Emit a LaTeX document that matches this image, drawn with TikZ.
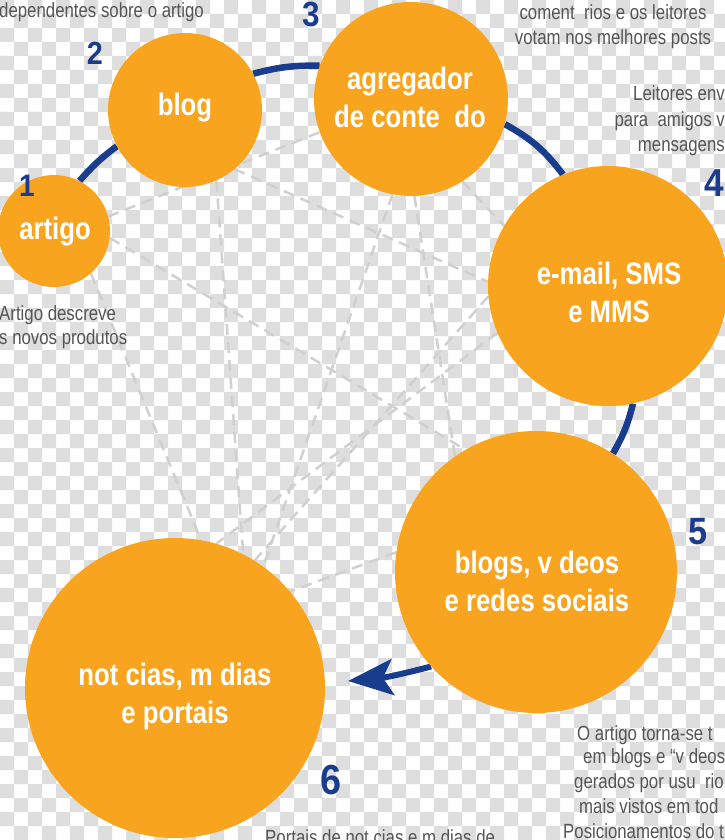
\documentclass[tikz,border=0pt]{standalone}
\usepackage{fontspec}
\setmainfont{Liberation Sans}
\newfontfamily\condfont{Liberation Sans}[FakeStretch=0.82]
\newfontfamily\labfont{Liberation Sans}[FakeStretch=0.83]
\newfontfamily\numfont{Liberation Sans}[FakeStretch=0.9]
\usetikzlibrary{arrows.meta}
\definecolor{orng}{RGB}{249,164,30}
\definecolor{navy}{RGB}{25,60,140}
\definecolor{txtgray}{RGB}{85,85,85}
\definecolor{chk}{RGB}{222,222,222}
\definecolor{dashg}{RGB}{208,208,208}
\pgfdeclarelayer{back}
\pgfdeclarelayer{mid}
\pgfsetlayers{back,mid,main}
\begin{document}
\begin{tikzpicture}[x=1pt,y=-1pt,
  bubble/.style={circle,fill=orng,inner sep=0pt},
  lbl/.style={text=white,align=center,inner sep=0pt,
    font=\labfont\bfseries\fontsize{31}{38}\selectfont},
  num/.style={text=navy,inner sep=0pt,font=\numfont\bfseries\fontsize{#1}{#1}\selectfont},
  note/.style={text=txtgray,inner sep=0pt,font=\condfont\fontsize{20.5}{25}\selectfont},
  flow/.style={draw=navy,line width=6.5pt},
  web/.style={draw=dashg,line width=2.5pt,dash pattern=on 11pt off 7pt}]
\useasboundingbox (0,0) rectangle (724,840);
\begin{pgfonlayer}{back}
  \fill[white] (0,0) rectangle (724,840);
  \fill[chk] \foreach \i in {0,...,25}{\foreach \j in {0,...,29}{
     (28*\i,28*\j) rectangle ++(14,14) (28*\i+14,28*\j+14) rectangle ++(14,14)}};
\end{pgfonlayer}

% circles
\node[bubble,minimum size=112pt] (artigo) at (54,231) {};
\node[bubble,minimum size=154pt] (blog) at (185,110) {};
\node[bubble,minimum size=194pt] (agreg) at (411,99) {};
\node[bubble,minimum size=240pt] (email) at (608,286) {};
\node[bubble,minimum size=282pt] (blogs) at (536,572) {};
\node[bubble,minimum size=300pt] (notic) at (175,688) {};
\coordinate (tip) at (348,681);

% circle labels
\node[lbl] (artigoT) at (55,232) {artigo};
\node[lbl] (blogT) at (185,108) {blog};
\node[lbl] (agregT) at (410,97) {agregador\\de conte\ \ do};
\node[lbl] (emailT) at (609,292) {e-mail, SMS\\e MMS};
\node[lbl] (blogsT) at (537,581) {blogs, v\ deos\\e redes sociais};
\node[lbl] (noticT) at (175,696) {not\ cias, m\ dias\\e portais};

\begin{pgfonlayer}{mid}
  \draw[web] (artigo.-49) -- (notic.80);
  \draw[web] (blog.-66) -- (notic.63);
  \draw[web] (agreg.-101) -- (notic.54);
  \draw[web] (agreg.-88) -- (blogs.125);
  \draw[web] (email.185) -- (notic.58);
  \draw[web] (email.203) -- (notic.74);
  \draw[web] (artigo.-7) -- (blogs.120);
  \draw[web] (blog.-50) -- (email.178);
  \draw[web] (artigo.15) -- (agreg.200);
  \draw[web] (blogs.172) -- (notic.40);
  \draw[web] (agreg.-58) -- (email.150);
  \draw[flow] (artigo.63) to[bend left=6] (blog.208);
  \draw[flow] (blog.28) to[bend left=8] (agreg.160);
  \draw[flow] (agreg.-15) to[bend left=12] (email.112);
  \draw[flow] (email.-78) to[bend left=8] (blogs.57);
  \draw[flow,line width=6pt,-{Stealth[length=45pt,width=36pt,inset=10pt]}] (blogs.222) to[bend left=5] (tip);
\end{pgfonlayer}

% numbers
\node[num=31] (n1) at (27,186) {1};
\node[num=32] (n2) at (95,53) {2};
\node[num=35] (n3) at (311,14) {3};
\node[num=39] (n4) at (714,183) {4};
\node[num=38] (n5) at (698,532) {5};
\node[num=42] (n6) at (331,780) {6};

% notes
\node[note,anchor=base west] (t1) at (-1,18) {dependentes sobre o artigo};
\node[note,anchor=base] (t3a) at (613,20) {coment\ \ rios e os leitores};
\node[note,anchor=base] (t3b) at (613,45) {votam nos melhores posts};
\node[note,anchor=base east] (t4a) at (725,101) {Leitores env};
\node[note,anchor=base east] (t4b) at (725,126) {para\ \ amigos v};
\node[note,anchor=base east] (t4c) at (725,151) {mensagens};
\node[note,anchor=base west] (t2a) at (-1,320) {Artigo descreve};
\node[note,anchor=base west] (t2b) at (-1,344) {s novos produtos};
\node[note,anchor=base west] (t5a) at (577,740) {O artigo torna-se t};
\node[note,anchor=base west] (t5b) at (583,763) {em blogs e “v deos};
\node[note,anchor=base west] (t5c) at (574,788) {gerados por usu\ \ rio};
\node[note,anchor=base west] (t5d) at (579,813) {mais vistos em tod};
\node[note,anchor=base west] (t5e) at (563,838) {Posicionamentos do t};
\node[note,anchor=base west] (t6) at (265,844) {Portais de not\ cias e m\ dias de};
\end{tikzpicture}
\end{document}
